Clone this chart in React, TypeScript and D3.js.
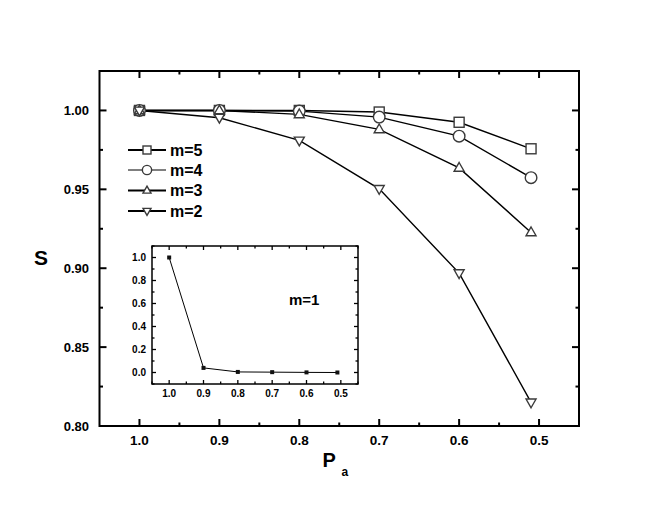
import React from "react";
import * as d3 from "d3";

const xVals = [1.0, 0.9, 0.8, 0.7, 0.6, 0.51];
const m5 = [1.0, 1.0, 1.0, 0.999, 0.9925, 0.9757];
const m4 = [1.0, 1.0, 0.9996, 0.9958, 0.9837, 0.9574];
const m3 = [1.0, 1.0, 0.9975, 0.988, 0.9636, 0.9227];
const m2 = [1.0, 0.9954, 0.981, 0.9503, 0.8969, 0.815];
const m1 = [1.0, 0.04, 0.005, 0.003, 0.001, 0.0];

const seriesNames = ["m=5", "m=4", "m=3", "m=2"];
const seriesShapes = ["square", "circle", "up", "down"];
const mainXTicks = [1.0, 0.9, 0.8, 0.7, 0.6, 0.5];
const mainYTicks = [0.8, 0.85, 0.9, 0.95, 1.0];
const insetXTicks = [1.0, 0.9, 0.8, 0.7, 0.6, 0.5];
const insetYTicks = [0.0, 0.2, 0.4, 0.6, 0.8, 1.0];

const FONT = "'Liberation Sans', Arial, sans-serif";

function Marker({ shape, cx, cy, s }: { shape: string; cx: number; cy: number; s: number }) {
  const st = { fill: "#fff", stroke: "#3a3a3a", strokeWidth: 1.4 };
  if (shape === "square")
    return <rect x={cx - s / 2} y={cy - s / 2} width={s} height={s} {...st} />;
  if (shape === "circle") return <circle cx={cx} cy={cy} r={s * 0.58} {...st} />;
  const h = s * 0.87;
  if (shape === "up")
    return (
      <path
        d={`M${cx},${cy - h * 0.62} L${cx + s / 2},${cy + h * 0.38} L${cx - s / 2},${cy + h * 0.38} Z`}
        {...st}
      />
    );
  return (
    <path
      d={`M${cx},${cy + h * 0.62} L${cx + s / 2},${cy - h * 0.38} L${cx - s / 2},${cy - h * 0.38} Z`}
      {...st}
    />
  );
}

export default function App() {
  const W = 646,
    H = 515;
  const x = d3.scaleLinear().domain([1.05, 0.45]).range([99.5, 579]);
  const y = d3.scaleLinear().domain([0.8, 1.025]).range([426, 71]);
  const ix = d3.scaleLinear().domain([1.05, 0.45]).range([152, 358]);
  const iy = d3.scaleLinear().domain([-0.1, 1.1]).range([384, 246]);

  const series = [m5, m4, m3, m2];
  const line = d3
    .line<number>()
    .x((_, i) => x(xVals[i]))
    .y((d) => y(d));
  const iline = d3
    .line<number>()
    .x((_, i) => ix(xVals[i]))
    .y((d) => iy(d));

  const [x0, x1] = x.range();
  const [y0, y1] = y.range();
  const xMinor = d3.range(0.95, 0.5, -0.1).map((v) => +v.toFixed(2));
  const yMinor = [0.825, 0.875, 0.925, 0.975];

  const [ix0, ix1] = ix.range();
  const [iy0, iy1] = iy.range();
  const ixMinor = [1.05, 0.95, 0.85, 0.75, 0.65, 0.55, 0.45];
  const iyMinor = [-0.1, 0.1, 0.3, 0.5, 0.7, 0.9, 1.1];

  const legendY = [150, 170, 190.5, 211];

  return (
    <div style={{ position: "fixed", left: 0, top: 0, background: "#fff" }}>
      <svg width={W} height={H} style={{ display: "block" }}>
        <rect width={W} height={H} fill="#fff" />
        {/* main series */}
        {series.map((s, k) => (
          <path key={"l" + k} d={line(s) || ""} fill="none" stroke="#000" strokeWidth={1.4} />
        ))}
        {series.map((s, k) =>
          s.map((v, i) => (
            <Marker
              key={"m" + k + "_" + i}
              shape={seriesShapes[k]}
              cx={x(xVals[i])}
              cy={y(v)}
              s={10}
            />
          ))
        )}
        {/* main ticks */}
        {mainXTicks.map((t) => (
          <g key={"xt" + t}>
            <line x1={x(t)} x2={x(t)} y1={y0} y2={y0 - 7} stroke="#000" strokeWidth={2} />
            <line x1={x(t)} x2={x(t)} y1={y1} y2={y1 + 7} stroke="#000" strokeWidth={2} />
            <text
              x={x(t)}
              y={445}
              textAnchor="middle"
              fontFamily={FONT}
              fontWeight="bold"
              fontSize={13.5}
            >
              {t.toFixed(1)}
            </text>
          </g>
        ))}
        {xMinor.map((t) => (
          <g key={"xm" + t}>
            <line x1={x(t)} x2={x(t)} y1={y0} y2={y0 - 3.5} stroke="#000" strokeWidth={2} />
            <line x1={x(t)} x2={x(t)} y1={y1} y2={y1 + 3.5} stroke="#000" strokeWidth={2} />
          </g>
        ))}
        {mainYTicks.map((t) => (
          <g key={"yt" + t}>
            <line x1={x0} x2={x0 + 7} y1={y(t)} y2={y(t)} stroke="#000" strokeWidth={2} />
            <line x1={x1} x2={x1 - 7} y1={y(t)} y2={y(t)} stroke="#000" strokeWidth={2} />
            <text
              x={89}
              y={y(t) + 4.5}
              textAnchor="end"
              fontFamily={FONT}
              fontWeight="bold"
              fontSize={13}
            >
              {t.toFixed(2)}
            </text>
          </g>
        ))}
        {yMinor.map((t) => (
          <g key={"ym" + t}>
            <line x1={x0} x2={x0 + 3.5} y1={y(t)} y2={y(t)} stroke="#000" strokeWidth={2} />
            <line x1={x1} x2={x1 - 3.5} y1={y(t)} y2={y(t)} stroke="#000" strokeWidth={2} />
          </g>
        ))}
        <rect
          x={x0}
          y={y1}
          width={x1 - x0}
          height={y0 - y1}
          fill="none"
          stroke="#000"
          strokeWidth={2}
        />
        {/* axis titles */}
        <text x={41} y={265} textAnchor="middle" fontFamily={FONT} fontWeight="bold" fontSize={21}>
          S
        </text>
        <text x={322.5} y={467} fontFamily={FONT} fontWeight="bold" fontSize={20}>
          P
        </text>
        <text x={341.5} y={476} fontFamily={FONT} fontWeight="bold" fontSize={12}>
          a
        </text>
        {/* legend */}
        {seriesNames.map((n, k) => (
          <g key={"lg" + k}>
            <line
              x1={128}
              x2={166}
              y1={legendY[k]}
              y2={legendY[k]}
              stroke="#000"
              strokeWidth={k === 1 ? 1 : 2}
            />
            <Marker shape={seriesShapes[k]} cx={147} cy={legendY[k]} s={8} />
            <text
              x={170}
              y={legendY[k] + 5.5}
              fontFamily={FONT}
              fontWeight="bold"
              fontSize={16}
            >
              {n}
            </text>
          </g>
        ))}
        {/* inset */}
        <rect x={ix0} y={iy1} width={ix1 - ix0} height={iy0 - iy1} fill="#fff" />
        <path d={iline(m1) || ""} fill="none" stroke="#000" strokeWidth={1} />
        {m1.map((v, i) => (
          <rect
            key={"im" + i}
            x={ix(xVals[i]) - 2}
            y={iy(v) - 2}
            width={4}
            height={4}
            fill="#111"
          />
        ))}
        {insetXTicks.map((t) => (
          <g key={"ixt" + t}>
            <line x1={ix(t)} x2={ix(t)} y1={iy0} y2={iy0 - 4} stroke="#000" strokeWidth={1.3} />
            <line x1={ix(t)} x2={ix(t)} y1={iy1} y2={iy1 + 4} stroke="#000" strokeWidth={1.3} />
            <text
              x={ix(t)}
              y={397}
              textAnchor="middle"
              fontFamily={FONT}
              fontWeight="bold"
              fontSize={10}
            >
              {t.toFixed(1)}
            </text>
          </g>
        ))}
        {ixMinor.map((t) => (
          <g key={"ixm" + t}>
            <line x1={ix(t)} x2={ix(t)} y1={iy0} y2={iy0 - 2.5} stroke="#000" strokeWidth={1.3} />
            <line x1={ix(t)} x2={ix(t)} y1={iy1} y2={iy1 + 2.5} stroke="#000" strokeWidth={1.3} />
          </g>
        ))}
        {insetYTicks.map((t) => (
          <g key={"iyt" + t}>
            <line x1={ix0} x2={ix0 + 4} y1={iy(t)} y2={iy(t)} stroke="#000" strokeWidth={1.3} />
            <line x1={ix1} x2={ix1 - 4} y1={iy(t)} y2={iy(t)} stroke="#000" strokeWidth={1.3} />
            <text
              x={146}
              y={iy(t) + 3.5}
              textAnchor="end"
              fontFamily={FONT}
              fontWeight="bold"
              fontSize={10}
            >
              {t.toFixed(1)}
            </text>
          </g>
        ))}
        {iyMinor.map((t) => (
          <g key={"iym" + t}>
            <line x1={ix0} x2={ix0 + 2.5} y1={iy(t)} y2={iy(t)} stroke="#000" strokeWidth={1.3} />
            <line x1={ix1} x2={ix1 - 2.5} y1={iy(t)} y2={iy(t)} stroke="#000" strokeWidth={1.3} />
          </g>
        ))}
        <rect
          x={ix0}
          y={iy1}
          width={ix1 - ix0}
          height={iy0 - iy1}
          fill="none"
          stroke="#000"
          strokeWidth={1.5}
        />
        <text x={289} y={305} fontFamily={FONT} fontWeight="bold" fontSize={15}>
          m=1
        </text>
      </svg>
    </div>
  );
}
